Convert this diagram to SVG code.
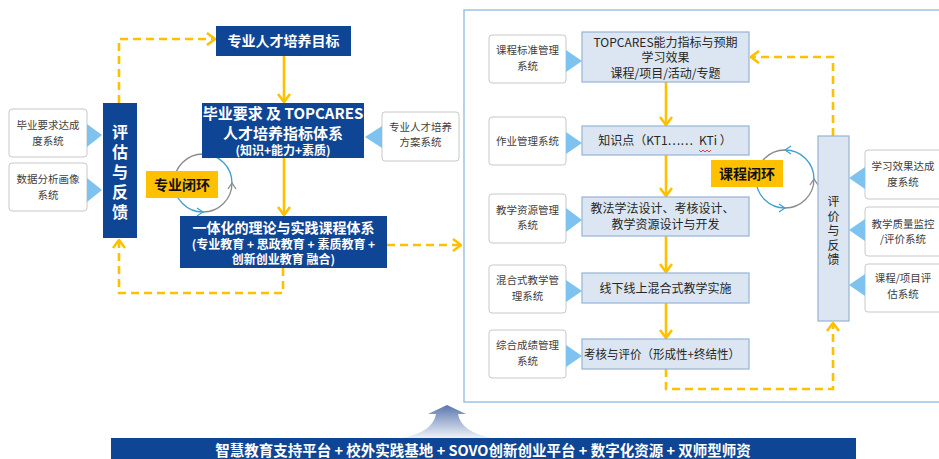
<svg xmlns="http://www.w3.org/2000/svg" width="939" height="459" viewBox="0 0 939 459">
<style>
text{font-family:"Noto Sans CJK SC","Liberation Sans",sans-serif;}
.dk{fill:#0F4595;}
.wt{fill:#fff;font-weight:bold;text-anchor:middle;}
.sys{fill:#fff;stroke:#C8C8C8;stroke-width:1;}
.syst{fill:#404040;font-size:10.5px;text-anchor:middle;}
.lb{fill:#DCE6F2;stroke:#95B3D7;stroke-width:1.2;}
.lbt{fill:#262626;font-size:12px;text-anchor:middle;}
.tri{fill:#7EC3F0;}
.sol{fill:none;stroke:#FFC000;stroke-width:2.6;marker-end:url(#ah);}
.dash{fill:none;stroke:#FFC000;stroke-width:2.6;stroke-dasharray:8 5;marker-end:url(#ah);}
.yl{fill:#FFC000;}
.ylt{fill:#111;font-weight:bold;font-size:14px;text-anchor:middle;}
.cb{fill:none;stroke:#3FA0D0;stroke-width:1.3;marker-end:url(#cb);}
.cg{fill:none;stroke:#8A8A8A;stroke-width:1.3;marker-end:url(#cg);}
.vt{writing-mode:vertical-rl;text-anchor:middle;}
</style>
<defs>
<marker id="ah" viewBox="0 0 10 14" refX="9" refY="7" markerWidth="10" markerHeight="14" markerUnits="userSpaceOnUse" orient="auto">
<path d="M1,1 L9,7 L1,13" fill="none" stroke="#FFC000" stroke-width="2.6" stroke-dasharray="none"/>
</marker>
<marker id="cb" viewBox="0 0 8 10" refX="7" refY="5" markerWidth="8" markerHeight="10" markerUnits="userSpaceOnUse" orient="auto">
<path d="M1,1 L7,5 L1,9" fill="none" stroke="#3FA0D0" stroke-width="1.3"/>
</marker>
<marker id="cg" viewBox="0 0 8 10" refX="7" refY="5" markerWidth="8" markerHeight="10" markerUnits="userSpaceOnUse" orient="auto">
<path d="M1,1 L7,5 L1,9" fill="none" stroke="#8A8A8A" stroke-width="1.3"/>
</marker>
<linearGradient id="ug" x1="0" y1="0" x2="0" y2="1">
<stop offset="0" stop-color="#5A76AE"/>
<stop offset="1" stop-color="#EEF2F8"/>
</linearGradient>
</defs>
<rect width="939" height="459" fill="#fff"/>

<!-- right panel frame -->
<rect id="panel" x="464" y="10" width="490" height="392" fill="#fff" stroke="#9DC3E6" stroke-width="1.5"/>

<g id="connectors">
<path class="dash" d="M119,103 V39 H215"/>
<path class="dash" d="M283,268 V293 H119 V240"/>
<path class="sol" d="M284,56 V102"/>
<path class="sol" d="M284,158 V215"/>
<path class="dash" d="M387,245 H461"/>
<path class="sol" d="M666,82 V125"/>
<path class="sol" d="M666,155 V196"/>
<path class="sol" d="M666,236 V272"/>
<path class="sol" d="M666,303 V338"/>
<path class="dash" d="M666,369 V389 H833 V323"/>
<path class="dash" d="M833,136 V57 H751"/>
</g>

<!-- loops -->
<g id="loop1">
<path class="cb" d="M232,183 A29,29 0 0 0 203,154"/>
<path class="cg" d="M203,154 A29,29 0 0 0 174,183"/>
<path class="cb" d="M174,183 A29,29 0 0 0 203,212"/>
<path class="cg" d="M203,212 A29,29 0 0 0 232,183"/>
<rect class="yl" x="146" y="171" width="72" height="27"/>
<text class="ylt" x="182" y="189.5">专业闭环</text>
</g>
<g id="loop2">
<path class="cb" d="M814,179 A29,29 0 0 0 785,150"/>
<path class="cg" d="M785,150 A29,29 0 0 0 756,179"/>
<path class="cb" d="M756,179 A29,29 0 0 0 785,208"/>
<path class="cg" d="M785,208 A29,29 0 0 0 814,179"/>
<rect class="yl" x="711" y="160" width="72" height="27"/>
<text class="ylt" x="747" y="178.5">课程闭环</text>
</g>

<!-- left side -->
<g id="sysL1">
<rect class="sys" x="9" y="109" width="78" height="48" rx="3"/>
<text class="syst" x="48" y="129">毕业要求达成</text>
<text class="syst" x="48" y="144.5">度系统</text>
<polygon class="tri" points="87,124 102,135 87,147"/>
</g>
<g id="sysL2">
<rect class="sys" x="9" y="163" width="78" height="48" rx="3"/>
<text class="syst" x="48" y="183">数据分析画像</text>
<text class="syst" x="48" y="198.5">系统</text>
<polygon class="tri" points="87,178 102,190 87,202"/>
</g>
<g id="evalL">
<rect class="dk" x="103" y="103" width="34" height="135"/>
<text class="wt vt" font-size="16" letter-spacing="4" x="120" y="174">评估与反馈</text>
</g>
<g id="goal">
<rect class="dk" x="216" y="26" width="135" height="30"/>
<text class="wt" font-size="14" x="283.5" y="46">专业人才培养目标</text>
</g>
<g id="req">
<rect class="dk" x="202" y="103" width="162" height="55"/>
<text class="wt" font-size="15" x="283" y="119">毕业要求 及 TOPCARES</text>
<text class="wt" font-size="15" x="283" y="139">人才培养指标体系</text>
<text class="wt" font-size="12" x="283" y="155">(知识+能力+素质)</text>
</g>
<g id="plan">
<rect class="sys" x="382" y="112" width="77" height="49" rx="3"/>
<text class="syst" x="420.5" y="130.5">专业人才培养</text>
<text class="syst" x="420.5" y="146">方案系统</text>
<polygon class="tri" points="382,126 365,137 382,148"/>
</g>
<g id="curri">
<rect class="dk" x="180" y="216" width="207" height="52"/>
<text class="wt" font-size="14" x="283.5" y="233">一体化的理论与实践课程体系</text>
<text class="wt" font-size="12" x="283.5" y="249">(专业教育 + 思政教育 + 素质教育 +</text>
<text class="wt" font-size="12" x="283.5" y="264">创新创业教育 融合)</text>
</g>

<!-- right panel column -->
<g id="s1">
<rect class="sys" x="489" y="35" width="77" height="48" rx="3"/>
<text class="syst" x="527.5" y="54">课程标准管理</text>
<text class="syst" x="527.5" y="69.5">系统</text>
<polygon class="tri" points="566,50 582,61 566,72"/>
</g>
<g id="b1">
<rect class="lb" x="582" y="32" width="167" height="50"/>
<text class="lbt" x="665.5" y="47">TOPCARES能力指标与预期</text>
<text class="lbt" x="665.5" y="62">学习效果</text>
<text class="lbt" x="665.5" y="78">课程/项目/活动/专题</text>
</g>
<g id="s2">
<rect class="sys" x="489" y="117" width="77" height="48" rx="3"/>
<text class="syst" x="527.5" y="145">作业管理系统</text>
<polygon class="tri" points="566,132 582,143 566,154"/>
</g>
<g id="b2">
<rect class="lb" x="582" y="126" width="167" height="29"/>
<text class="lbt" style="text-anchor:end" x="693" y="145">知识点（KT1……</text>
<text class="lbt" style="text-anchor:start" x="699" y="145">KTi ）</text>
<path d="M699,150 l2,2 l2,-2 l2,2 l2,-2 l2,2 l2,-2" fill="none" stroke="#E03030" stroke-width="0.9"/>
</g>
<g id="s3">
<rect class="sys" x="489" y="194" width="77" height="49" rx="3"/>
<text class="syst" x="527.5" y="213.5">教学资源管理</text>
<text class="syst" x="527.5" y="229">系统</text>
<polygon class="tri" points="566,208 582,220 566,232"/>
</g>
<g id="b3">
<rect class="lb" x="582" y="197" width="167" height="39"/>
<text class="lbt" x="662.5" y="213">教法学法设计、考核设计、</text>
<text class="lbt" x="665.5" y="229">教学资源设计与开发</text>
</g>
<g id="s4">
<rect class="sys" x="489" y="265" width="77" height="48" rx="3"/>
<text class="syst" x="527.5" y="284">混合式教学管</text>
<text class="syst" x="527.5" y="299.5">理系统</text>
<polygon class="tri" points="566,280 582,291 566,302"/>
</g>
<g id="b4">
<rect class="lb" x="582" y="273" width="167" height="30"/>
<text class="lbt" x="665.5" y="292.5">线下线上混合式教学实施</text>
</g>
<g id="s5">
<rect class="sys" x="489" y="330" width="77" height="48" rx="3"/>
<text class="syst" x="527.5" y="349">综合成绩管理</text>
<text class="syst" x="527.5" y="364.5">系统</text>
<polygon class="tri" points="566,345 582,356 566,367"/>
</g>
<g id="b5">
<rect class="lb" x="582" y="339" width="167" height="30"/>
<text class="lbt" style="text-anchor:start" x="584" y="358.5" textLength="156" lengthAdjust="spacingAndGlyphs">考核与评价（形成性+终结性）</text>
</g>

<g id="evalR">
<rect class="lb" x="818" y="136" width="31" height="185"/>
<text class="lbt vt" font-size="14" letter-spacing="2.5" x="833.5" y="232">评价与反馈</text>
</g>
<g id="r1">
<rect class="sys" x="865" y="150" width="80" height="49" rx="3"/>
<text class="syst" x="903" y="170">学习效果达成</text>
<text class="syst" x="903" y="185.5">度系统</text>
<polygon class="tri" points="865,167 849,178 865,189"/>
</g>
<g id="r2">
<rect class="sys" x="865" y="207" width="80" height="49" rx="3"/>
<text class="syst" x="903" y="227.5">教学质量监控</text>
<text class="syst" x="903" y="243">/评价系统</text>
<polygon class="tri" points="865,219 849,230 865,241"/>
</g>
<g id="r3">
<rect class="sys" x="865" y="264" width="80" height="48" rx="3"/>
<text class="syst" x="903" y="282">课程/项目评</text>
<text class="syst" x="903" y="297.5">估系统</text>
<polygon class="tri" points="865,274 849,285 865,296"/>
</g>

<!-- bottom -->
<g id="upArrow">
<path d="M447,405 L466,414 L458,414 Q461,432 492,438 L402,438 Q433,432 436,414 L428,414 Z" fill="url(#ug)"/>
</g>
<g id="banner">
<rect class="dk" x="111" y="438" width="745" height="25"/>
<text class="wt" font-size="14.5" x="483" y="456">智慧教育支持平台 + 校外实践基地 + SOVO创新创业平台 + 数字化资源 + 双师型师资</text>
</g>
</svg>
